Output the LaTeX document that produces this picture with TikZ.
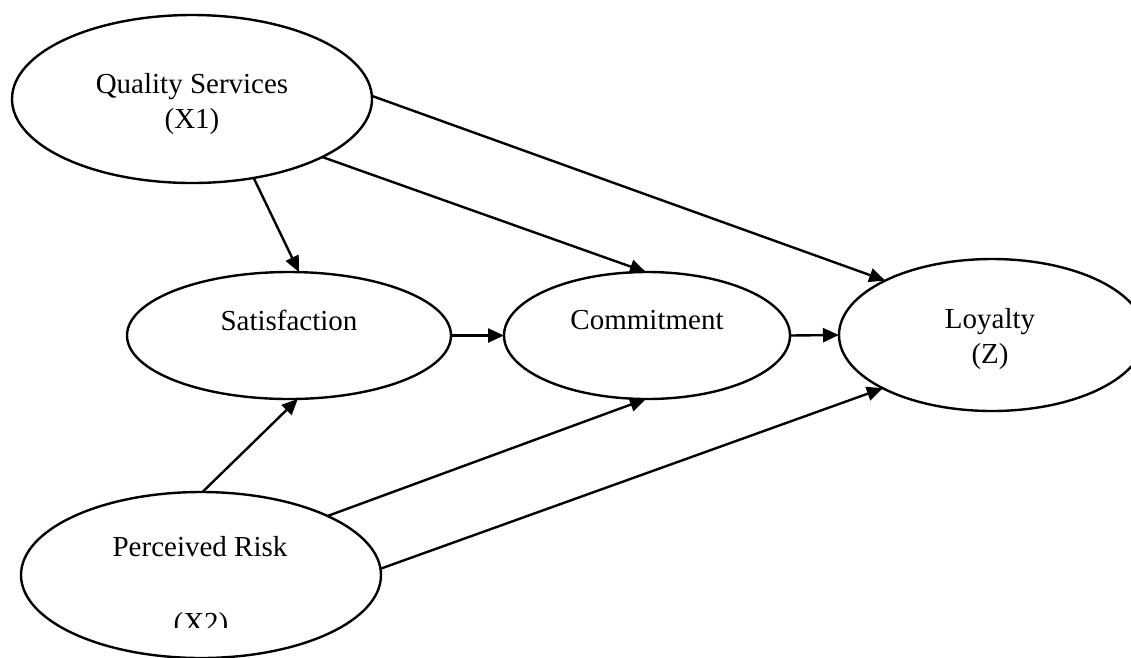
\documentclass[tikz,border=0pt]{standalone}
\usepackage{fontspec}
\setmainfont{Liberation Serif}
\usetikzlibrary{shapes.geometric,arrows.meta}
\begin{document}
\begin{tikzpicture}[x=1pt,y=-1pt,line width=2.4pt,
  latent/.style={draw,ellipse,inner sep=0pt,outer sep=0pt},
  lbl/.style={anchor=base,inner sep=0pt,font=\fontsize{29}{35}\selectfont},
  link/.style={-{Triangle[length=16pt,width=14pt]}}]
\clip (0,0) rectangle (1131,657);
% ellipses
\node[latent,minimum width=360pt,minimum height=168pt] (qs) at (192,99) {};
\node[latent,minimum width=324pt,minimum height=127pt] (sat) at (289,335.5) {};
\node[latent,minimum width=286pt,minimum height=127pt] (com) at (647,335.5) {};
\node[latent,minimum width=306pt,minimum height=152pt] (loy) at (992,335) {};
\node[latent,minimum width=360pt,minimum height=166pt] (pr) at (201,575) {};
% labels
\node[lbl] (qst1) at (192,93) {Quality Services};
\node[lbl] (qst2) at (192,128) {(X1)};
\node[lbl] (satt) at (289,330) {Satisfaction};
\node[lbl] (comt) at (647,329) {Commitment};
\node[lbl] (loyt1) at (990,328) {Loyalty};
\node[lbl] (loyt2) at (990,363) {(Z)};
\node[lbl] (prt1) at (200,556) {Perceived Risk};
\begin{scope}
\clip (0,0) rectangle (1131,627);
\node[lbl] (prt2) at (201,632) {(X2)};
\end{scope}
% connectors
\draw[link] (qs.-52.8) -- (sat.81.9);
\draw[link] (qs.-24.4) -- (com.91);
\draw[link] (qs.1.3) -- (loy.153.9);
\draw[link] (sat.east) -- (com.west);
\draw[link] (com.east) -- (loy.west);
\draw[link] (pr.89.5) -- (sat.-82.8);
\draw[link] (pr.25.3) -- (com.-91);
\draw[link] (pr.2.2) -- (loy.206.6);
\end{tikzpicture}
\end{document}
